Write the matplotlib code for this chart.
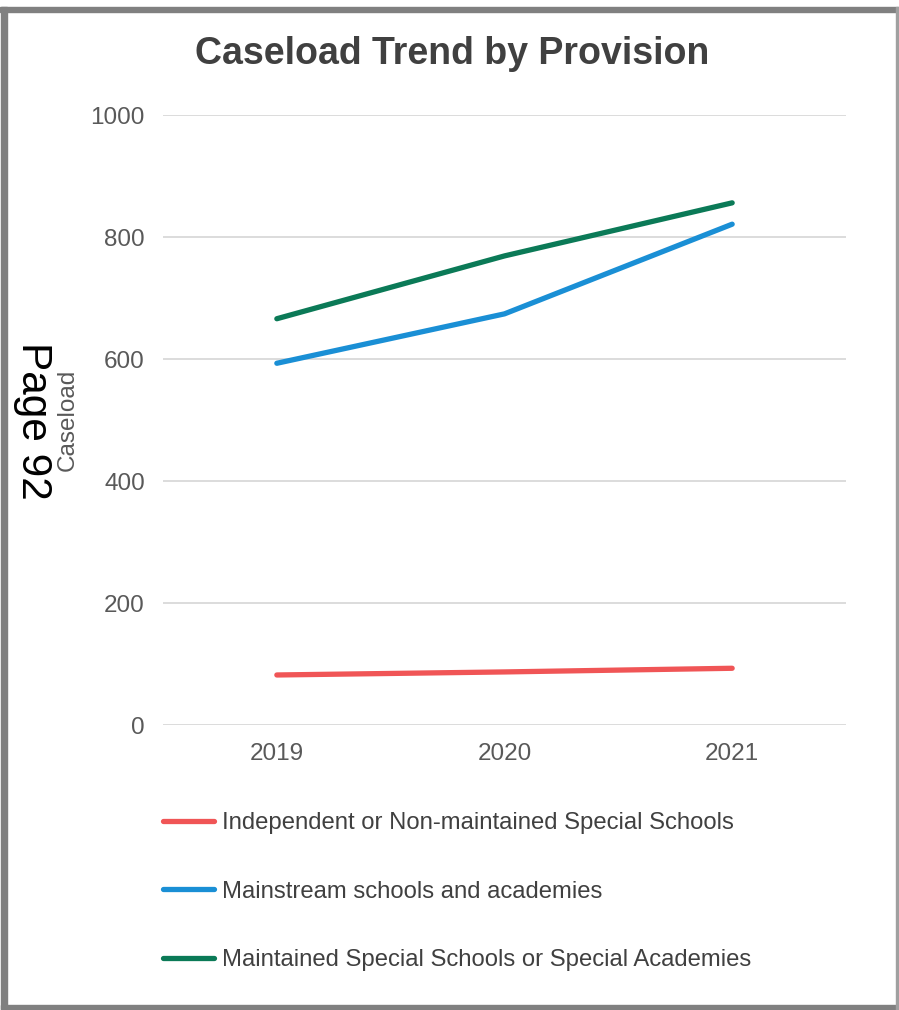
import matplotlib.pyplot as plt
from matplotlib.patches import Rectangle

# caseload per year, by provision type
years = ['2019', '2020', '2021']
independent = [82, 87, 93]
mainstream = [593, 674, 821]
maintained = [666, 769, 856]

labels = ['Independent or Non-maintained Special Schools',
          'Mainstream schools and academies',
          'Maintained Special Schools or Special Academies']
colors = ['#F05556', '#1A8FD5', '#0B7A57']

plt.rcParams['font.family'] = ['Liberation Sans', 'DejaVu Sans']

W, H = 899, 1010
fig = plt.figure(figsize=(W / 100, H / 100), dpi=100)
ax = fig.add_axes([163 / W, 1 - 725 / H, (846 - 163) / W, (725 - 115) / H])

x = range(len(years))
for vals, lab, col in zip([independent, mainstream, maintained], labels, colors):
    ax.plot(x, vals, color=col, lw=3.8, solid_capstyle='round', label=lab)

ax.set_xlim(-0.5, 2.5)
ax.set_ylim(0, 1000)
ax.set_yticks(range(0, 1001, 200))
ax.set_xticks(list(x))
ax.set_xticklabels(years)
ax.tick_params(length=0, labelsize=17.5, colors='#595959', pad=13)
ax.grid(axis='y', color='#D9D9D9', lw=1.3)
ax.set_axisbelow(True)
for s in ax.spines.values():
    s.set_visible(False)

fig.text(68 / W, 1 - 420 / H, 'Caseload', rotation=90, ha='center', va='center',
         fontsize=17.5, color='#595959')

fig.text(452 / W, 1 - 54 / H, 'Caseload Trend by Provision', ha='center', va='center',
         fontsize=27, fontweight='bold', color='#404040')
fig.text(33 / W, 1 - 421 / H, 'Page 92', rotation=-90, ha='center', va='center',
         fontsize=30.5, color='black')

fig.legend(loc='upper left', bbox_to_anchor=(163 / W, 1 - 812 / H), frameon=False,
           fontsize=17.2, handlelength=2.15, handletextpad=0.3, labelspacing=1.95,
           borderpad=0, borderaxespad=0, labelcolor='#404040')

# grey frame around the page
border = '#808080'
fig.patches.extend([
    Rectangle((0, 1 - 12 / H), 1, 5 / H, transform=fig.transFigure, color=border),
    Rectangle((1 / W, 0), 6 / W, 1 - 7 / H, transform=fig.transFigure, color=border),
    Rectangle((1 / W, 1 / H), 1 - 1 / W, 4 / H, transform=fig.transFigure, color=border),
    Rectangle((896 / W, 0), 2 / W, 1 - 7 / H, transform=fig.transFigure, color='#A0A0A0'),
])

fig.savefig('out.png', dpi=100)
